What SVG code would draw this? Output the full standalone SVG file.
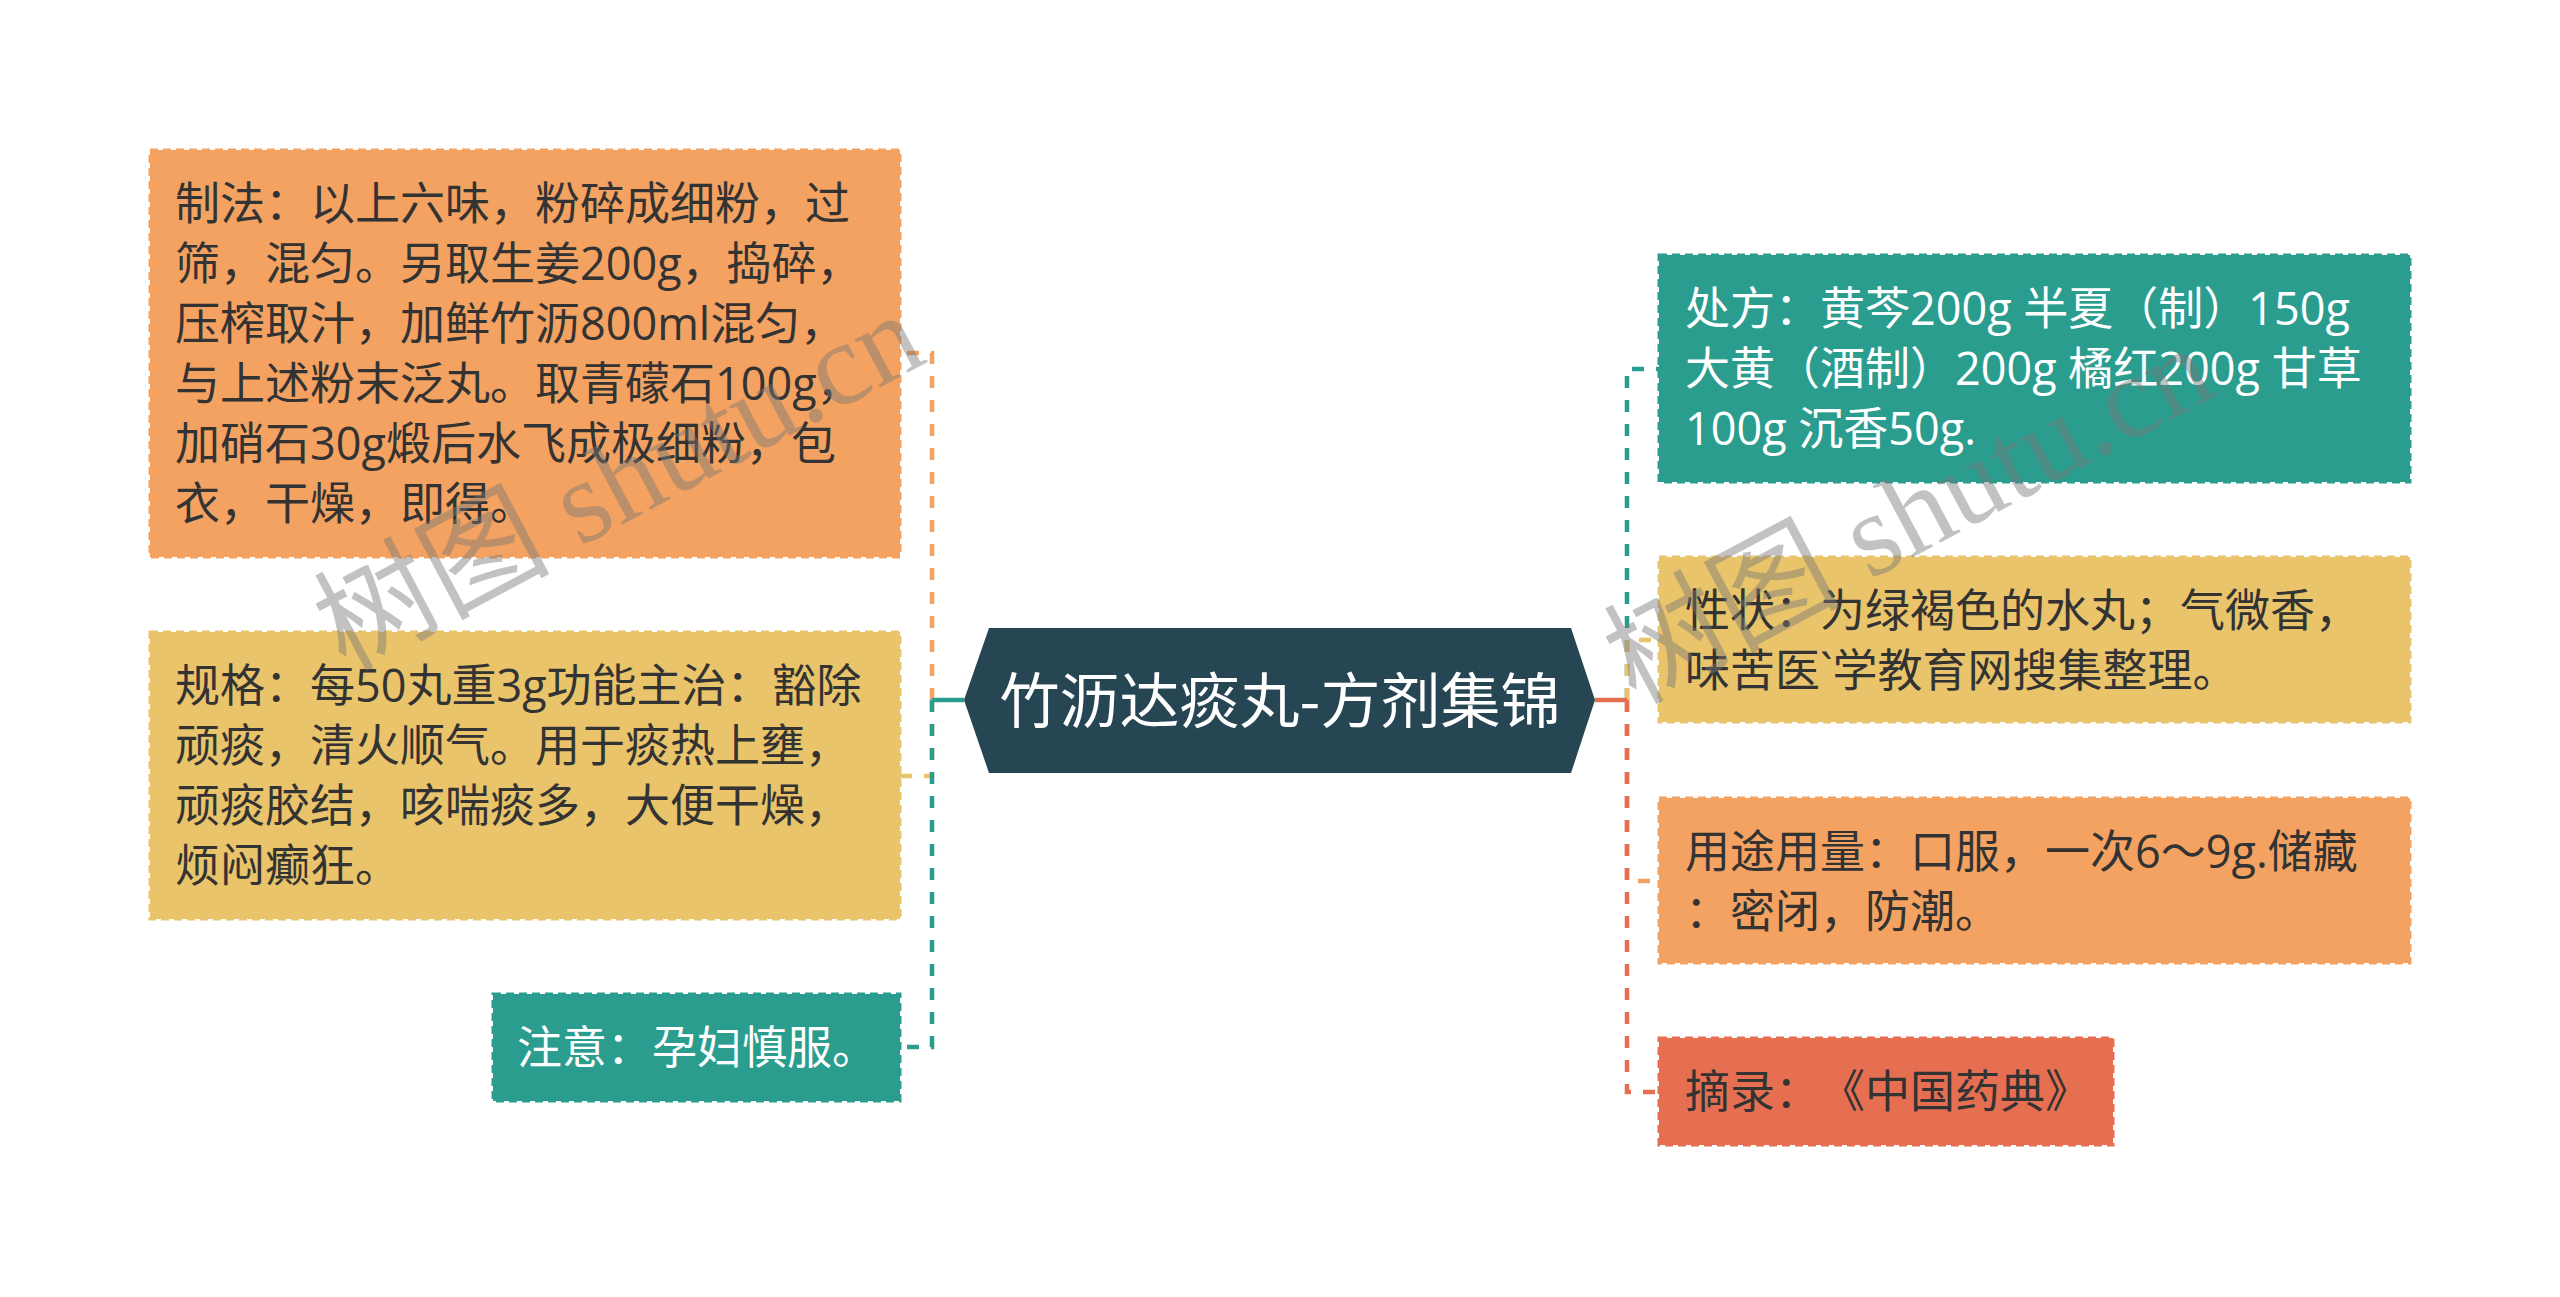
<svg xmlns="http://www.w3.org/2000/svg" width="2560" height="1297" viewBox="0 0 2560 1297">
<style>
.t{font-family:"Open Sans","Noto Sans CJK SC",sans-serif;font-size:45px;fill:#333333;text-spacing-trim:space-all}
.w{fill:#ffffff}
.box{stroke-width:3;stroke-dasharray:8 5}
.teal{fill:#2a9d8f;stroke:#2a9d8f}
.yel{fill:#e9c46a;stroke:#e9c46a}
.org{fill:#f4a261;stroke:#f4a261}
.red{fill:#e76f51;stroke:#e76f51}
.c{fill:none;stroke-width:4.5;stroke-dasharray:12 12}
.s{fill:none;stroke-width:4.5}
.wm{font-family:"Liberation Serif","Noto Sans CJK SC",serif;font-size:118px;fill:#777777;fill-opacity:0.45}
</style>
<rect width="2560" height="1297" fill="#ffffff"/>
<g id="connectors">
<path class="c" d="M932 700 V353 H900" stroke="#f4a261"/>
<path class="c" d="M932 700 V776 H900" stroke="#e9c46a"/>
<path class="c" d="M932 700 V1047 H900" stroke="#2a9d8f"/>
<path class="s" d="M964 700 H932" stroke="#2a9d8f"/>
<path class="c" d="M1627 700 V369 H1659" stroke="#2a9d8f"/>
<path class="c" d="M1627 700 V640 H1659" stroke="#e9c46a"/>
<path class="c" d="M1627 700 V881 H1659" stroke="#f4a261"/>
<path class="c" d="M1627 700 V1092 H1659" stroke="#e76f51"/>
<path class="s" d="M1595 700 H1627" stroke="#e76f51"/>
</g>
<g id="root">
<polygon points="964,700 989,628 1571,628 1595,700 1571,773 989,773" fill="#264653"/>
<text x="1280" y="723" text-anchor="middle" style="font-family:'Noto Sans CJK SC','Noto Sans',sans-serif;font-size:60px;fill:#ffffff">竹沥达痰丸-方剂集锦</text>
</g>
<g id="zhifa">
<rect class="box org" x="150" y="150" width="750" height="407"/>
<text class="t"><tspan x="175" y="220">制法：以上六味，粉碎成细粉，过</tspan><tspan x="175" y="280">筛，混匀。另取生姜200g，捣碎，</tspan><tspan x="175" y="340">压榨取汁，加鲜竹沥800ml混匀，</tspan><tspan x="175" y="400">与上述粉末泛丸。取青礞石100g，</tspan><tspan x="175" y="460">加硝石30g煅后水飞成极细粉，包</tspan><tspan x="175" y="520">衣，干燥，即得。</tspan></text>
</g>
<g id="guige">
<rect class="box yel" x="150" y="632" width="750" height="287"/>
<text class="t"><tspan x="175" y="702">规格：每50丸重3g功能主治：豁除</tspan><tspan x="175" y="762">顽痰，清火顺气。用于痰热上壅，</tspan><tspan x="175" y="822">顽痰胶结，咳喘痰多，大便干燥，</tspan><tspan x="175" y="882">烦闷癫狂。</tspan></text>
</g>
<g id="zhuyi">
<rect class="box teal" x="493" y="994" width="407" height="107"/>
<text class="t w" x="517" y="1064">注意：孕妇慎服。</text>
</g>
<g id="chufang">
<rect class="box teal" x="1659" y="255" width="751" height="227"/>
<text class="t w"><tspan x="1685" y="325">处方：黄芩200g 半夏（制）150g</tspan><tspan x="1685" y="385">大黄（酒制）200g 橘红200g 甘草</tspan><tspan x="1685" y="445">100g 沉香50g.</tspan></text>
</g>
<g id="xingzhuang">
<rect class="box yel" x="1659" y="557" width="751" height="165"/>
<text class="t"><tspan x="1685" y="627">性状：为绿褐色的水丸；气微香，</tspan><tspan x="1685" y="687">味苦医`学教育网搜集整理。</tspan></text>
</g>
<g id="yongtu">
<rect class="box org" x="1659" y="798" width="751" height="165"/>
<text class="t"><tspan x="1685" y="868">用途用量：口服，一次6～9g.储藏</tspan><tspan x="1685" y="928">：密闭，防潮。</tspan></text>
</g>
<g id="zhailu">
<rect class="box red" x="1659" y="1038" width="454" height="107"/>
<text class="t" x="1685" y="1108">摘录：《中国药典》</text>
</g>
<g id="watermark">
<text class="wm" transform="translate(345,672) rotate(-28)">树图 shutu.cn</text>
<text class="wm" transform="translate(1635,705) rotate(-28)">树图 shutu.cn</text>
</g>
</svg>
